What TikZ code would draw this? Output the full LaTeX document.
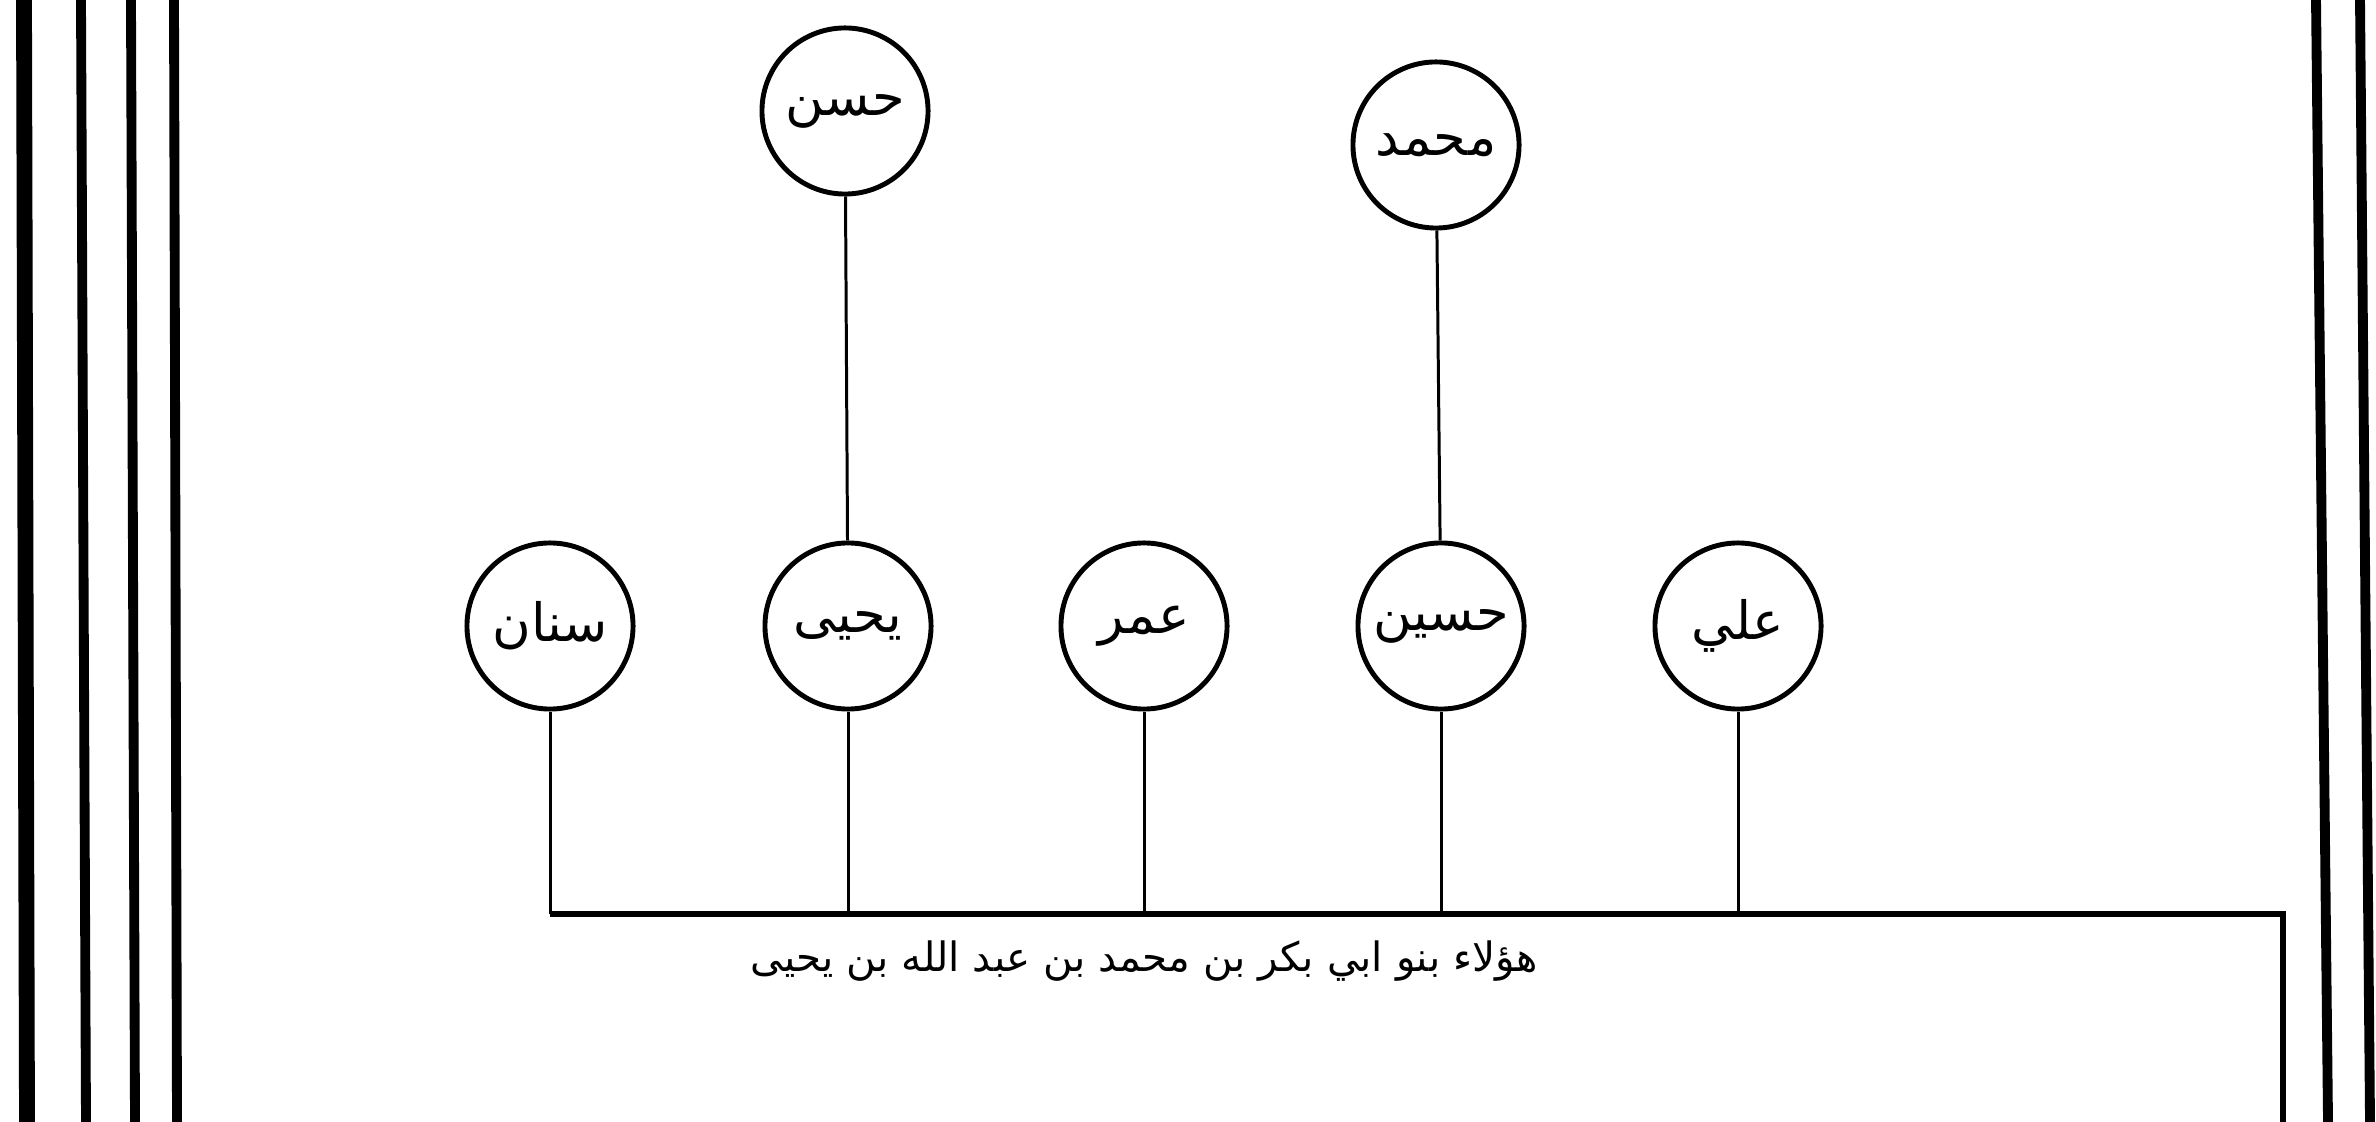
\documentclass[tikz,border=0pt]{standalone}
\usepackage{fontspec}
\newfontfamily\arabicfont[Script=Arabic]{DejaVu Sans}
\TeXXeTstate=1

\begin{document}
\begin{tikzpicture}[x=0.01cm,y=-0.01cm,
  person/.style={circle,draw,line width=1.4pt,minimum size=1.66cm,inner sep=0pt,
    font=\arabicfont\fontsize{15}{17}\selectfont},
  link/.style={line width=0.85pt},
  rule/.style={line width=2.8pt}]
  \useasboundingbox (0,0) rectangle (2376,1122);

  % page rules
  \draw[line width=4.5pt] (24,0) -- (27,1122);
  \foreach \xa/\xb in {81/86,131/135,174/177,2316/2328,2360/2370}{
    \draw[rule] (\xa,0) -- (\xb,1122);
  }

  % generations
  \node[person] (f1) at (845,111) {\beginR حسن\endR};
  \node[person] (f2) at (1436,145) {\beginR محمد\endR};
  \foreach \n/\x/\name in {1/550/سنان,2/848/يحيى,3/1144/عمر,4/1441/حسين,5/1738/علي}{
    \node[person] (c\n) at (\x,626) {\beginR\name\endR};
  }

  \draw[link] (f1) -- (c2);
  \draw[link] (f2) -- (c4);

  % common line
  \coordinate (busL) at (550,914);
  \coordinate (busR) at (2283,914);
  \coordinate (busE) at (2283,1122);
  \draw[line width=1.7pt] (busL) -- (busR) -- (busE);
  \foreach \n in {1,...,5}{
    \draw[link] (c\n.south) -- (c\n.south |- busL);
  }

  \node[font=\arabicfont\fontsize{11.5}{13}\selectfont,anchor=north] (note) at (1144,928)
    {\beginR هؤلاء بنو ابي بكر بن محمد بن عبد الله بن يحيى\endR};
\end{tikzpicture}
\end{document}
